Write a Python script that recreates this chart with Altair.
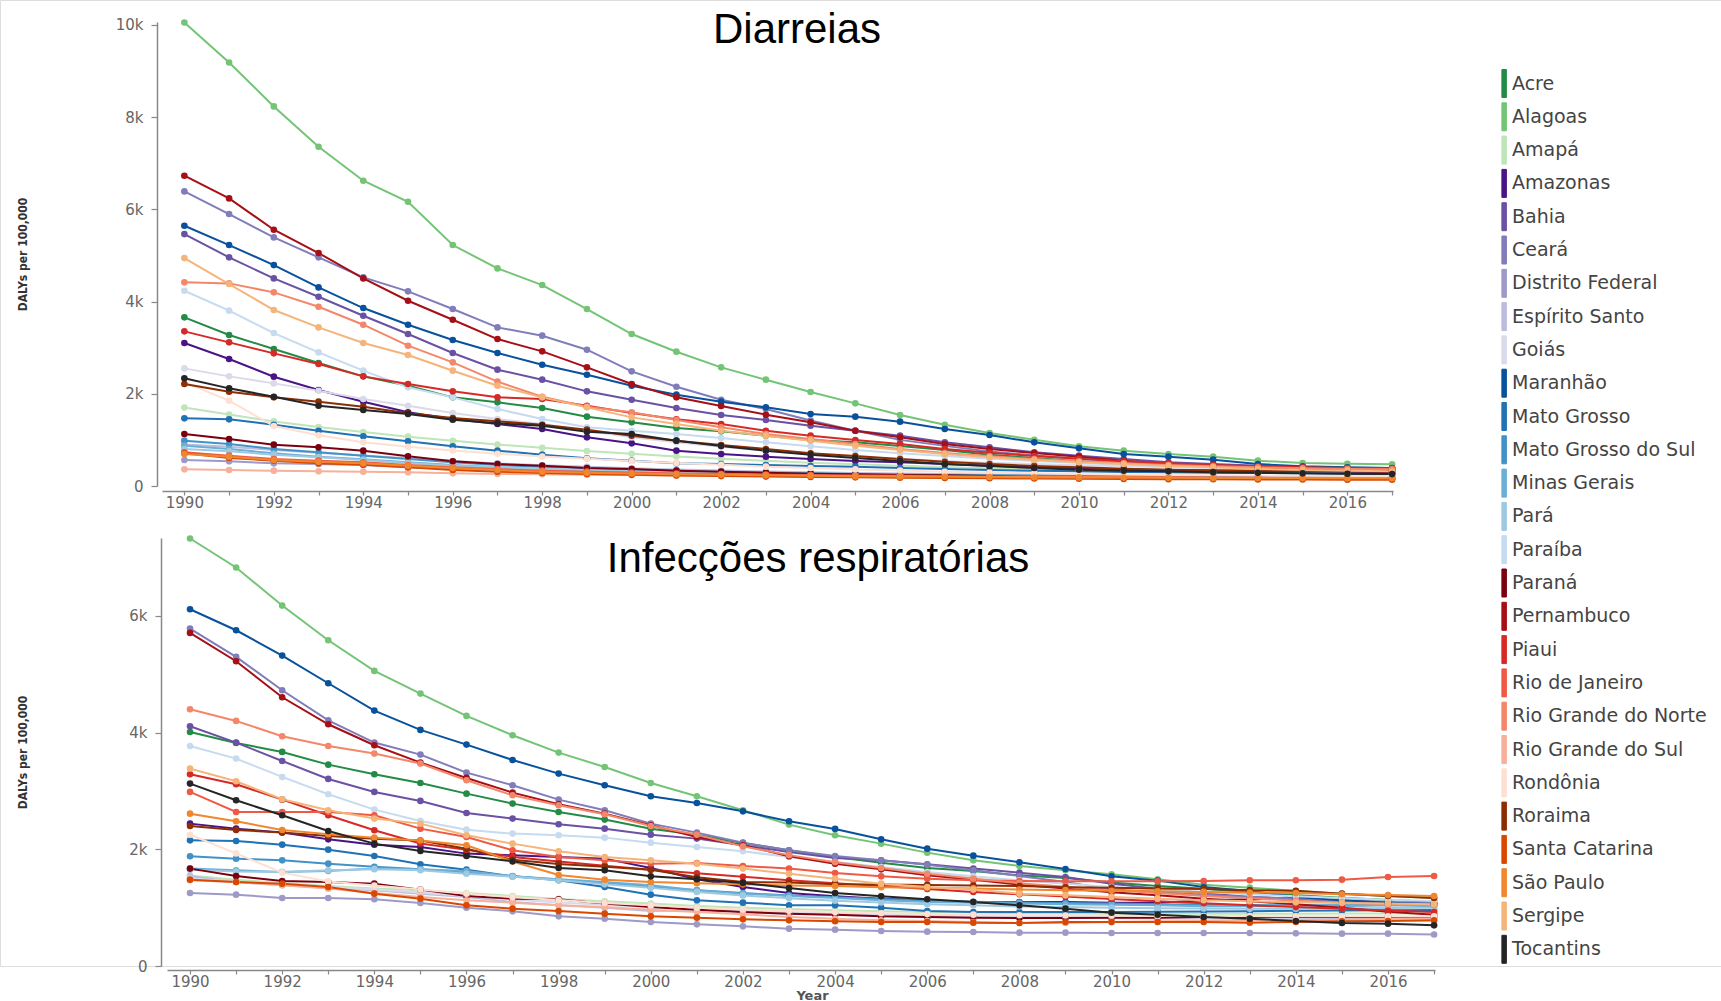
import altair as alt
import pandas as pd

YEARS = list(range(1990, 2018))

STATES = ["Acre", "Alagoas", "Amapá", "Amazonas", "Bahia", "Ceará", "Distrito Federal",
          "Espírito Santo", "Goiás", "Maranhão", "Mato Grosso", "Mato Grosso do Sul",
          "Minas Gerais", "Pará", "Paraíba", "Paraná", "Pernambuco", "Piaui",
          "Rio de Janeiro", "Rio Grande do Norte", "Rio Grande do Sul", "Rondônia",
          "Roraima", "Santa Catarina", "São Paulo", "Sergipe", "Tocantins"]

COLORS = ["#238b45", "#74c476", "#bfe5b9", "#4a1486", "#6a51a3", "#807dba", "#9e9ac8",
          "#bcbddc", "#dadaeb", "#08519c", "#2171b5", "#4292c6", "#6baed6", "#9ecae1",
          "#c6dbef", "#7a0010", "#a50f15", "#d52a26", "#ef5a44", "#f4876a", "#f7b09a",
          "#fde0d2", "#8c2d04", "#d94801", "#f0862e", "#f5b47a", "#252525"]

# ---- Diarreias (DALYs per 100,000), 1990..2017 ----
D_ACRE = [3656, 3273, 2970, 2666, 2377, 2175, 1922, 1814, 1691, 1503, 1380, 1257, 1185, 1091, 997, 947, 867, 780, 679, 607, 535, 491, 455, 419, 390, 368, 354, 340]
D_ALAGOAS = [10050, 9183, 8230, 7355, 6619, 6163, 5224, 4718, 4357, 3837, 3295, 2912, 2572, 2305, 2038, 1792, 1539, 1329, 1149, 1004, 860, 766, 694, 636, 549, 499, 480, 470]
D_AMAPA = [1700, 1550, 1400, 1280, 1170, 1070, 980, 900, 830, 760, 700, 640, 590, 545, 505, 470, 440, 410, 385, 362, 342, 325, 310, 297, 286, 277, 270, 265]
D_AMAZONAS = [3100, 2753, 2370, 2081, 1828, 1597, 1452, 1344, 1236, 1055, 925, 766, 694, 636, 585, 542, 513, 477, 441, 405, 383, 361, 347, 332, 325, 318, 311, 303]
D_BAHIA = [5462, 4957, 4501, 4104, 3692, 3295, 2883, 2522, 2305, 2052, 1871, 1691, 1539, 1431, 1308, 1199, 1091, 947, 838, 730, 658, 585, 513, 477, 441, 405, 383, 368]
D_CEARA = [6387, 5896, 5390, 4957, 4523, 4220, 3837, 3439, 3259, 2955, 2486, 2153, 1871, 1669, 1420, 1200, 1000, 870, 750, 660, 590, 525, 475, 435, 405, 385, 372, 365]
D_DF = [564, 535, 491, 477, 455, 405, 368, 332, 311, 289, 272, 258, 246, 236, 227, 219, 212, 206, 200, 195, 190, 186, 182, 179, 176, 174, 172, 170]
D_ES = [900, 850, 780, 720, 660, 600, 540, 490, 450, 415, 385, 358, 335, 315, 298, 283, 270, 258, 248, 239, 231, 224, 218, 213, 209, 205, 202, 200]
D_GOIAS = [2550, 2377, 2225, 2066, 1886, 1741, 1582, 1452, 1344, 1199, 1055, 947, 853, 766, 694, 636, 585, 542, 506, 477, 448, 426, 405, 390, 376, 368, 361, 354]
D_MARANHAO = [5643, 5224, 4790, 4306, 3858, 3497, 3165, 2883, 2630, 2413, 2175, 1980, 1828, 1705, 1561, 1503, 1395, 1236, 1105, 947, 816, 694, 636, 571, 477, 426, 405, 390]
D_MT = [1467, 1445, 1329, 1199, 1077, 968, 860, 766, 679, 600, 549, 491, 477, 455, 434, 419, 390, 368, 347, 332, 318, 303, 296, 289, 282, 275, 267, 260]
D_MS = [983, 910, 802, 730, 658, 585, 513, 455, 419, 383, 354, 330, 310, 290, 275, 262, 250, 240, 232, 225, 218, 212, 207, 202, 198, 195, 192, 190]
D_MG = [874, 802, 708, 636, 578, 513, 455, 405, 368, 332, 311, 290, 272, 256, 242, 230, 220, 211, 203, 196, 190, 185, 180, 176, 172, 169, 166, 163]
D_PARA = [802, 751, 679, 621, 564, 499, 441, 405, 368, 347, 320, 298, 280, 264, 250, 238, 228, 219, 211, 204, 198, 193, 188, 184, 180, 177, 174, 172]
D_PARAIBA = [4234, 3801, 3316, 2897, 2500, 2139, 1922, 1669, 1452, 1272, 1199, 1127, 1040, 947, 860, 780, 708, 650, 592, 542, 499, 462, 434, 412, 390, 376, 368, 361]
D_PARANA = [1127, 1019, 896, 838, 766, 643, 535, 477, 441, 390, 368, 332, 311, 289, 267, 253, 238, 231, 217, 202, 202, 195, 188, 181, 181, 173, 173, 166]
D_PERNAMBUCO = [6727, 6236, 5556, 5051, 4501, 4017, 3605, 3186, 2919, 2572, 2211, 1922, 1734, 1546, 1380, 1199, 1055, 910, 802, 715, 636, 549, 477, 441, 405, 368, 354, 347]
D_PIAUI = [3353, 3114, 2876, 2645, 2377, 2211, 2052, 1922, 1886, 1741, 1582, 1445, 1344, 1199, 1091, 997, 910, 802, 723, 650, 592, 535, 491, 455, 426, 405, 390, 383]
D_RJ = [730, 658, 585, 549, 513, 455, 405, 368, 332, 311, 290, 272, 258, 246, 236, 228, 220, 213, 207, 202, 198, 194, 190, 187, 184, 182, 180, 178]
D_RN = [4415, 4393, 4198, 3887, 3497, 3042, 2681, 2262, 1936, 1720, 1597, 1431, 1272, 1127, 1019, 910, 802, 715, 643, 585, 535, 491, 455, 426, 405, 383, 368, 361]
D_RS = [361, 347, 332, 318, 311, 296, 275, 260, 253, 246, 238, 230, 223, 216, 210, 204, 199, 194, 190, 186, 183, 180, 177, 175, 173, 171, 169, 168]
D_RONDONIA = [2250, 1850, 1300, 1100, 950, 850, 770, 700, 640, 590, 540, 500, 460, 420, 390, 360, 335, 310, 290, 275, 260, 250, 240, 232, 225, 220, 215, 212]
D_RORAIMA = [2211, 2045, 1922, 1828, 1720, 1575, 1474, 1402, 1329, 1221, 1091, 983, 889, 802, 708, 650, 585, 527, 477, 434, 405, 376, 354, 340, 332, 325, 318, 311]
D_SC = [708, 607, 549, 491, 462, 405, 347, 311, 282, 260, 242, 228, 215, 204, 195, 187, 180, 173, 167, 162, 157, 153, 149, 146, 143, 140, 138, 136]
D_SP = [694, 636, 564, 527, 491, 441, 390, 347, 311, 289, 270, 255, 242, 231, 222, 214, 207, 200, 195, 190, 186, 182, 179, 176, 174, 172, 170, 168]
D_SERGIPE = [4942, 4379, 3815, 3439, 3100, 2840, 2500, 2175, 1922, 1705, 1488, 1344, 1199, 1091, 983, 874, 780, 694, 621, 564, 513, 477, 434, 405, 368, 347, 332, 318]
D_TOCANTINS = [2334, 2117, 1936, 1741, 1647, 1561, 1438, 1358, 1308, 1178, 1127, 983, 867, 766, 679, 607, 542, 477, 434, 390, 354, 332, 318, 300, 285, 275, 265, 258]

# ---- Infecções respiratórias (DALYs per 100,000), 1990..2017 ----
R_ACRE = [4011, 3823, 3669, 3451, 3286, 3137, 2954, 2783, 2640, 2509, 2354, 2251, 2109, 1983, 1869, 1771, 1680, 1629, 1554, 1509, 1429, 1371, 1326, 1269, 1211, 1170, 1130, 1100]
R_ALAGOAS = [7326, 6829, 6177, 5583, 5057, 4669, 4286, 3954, 3657, 3411, 3137, 2909, 2669, 2423, 2240, 2097, 1943, 1811, 1714, 1640, 1571, 1486, 1394, 1343, 1286, 1240, 1200, 1166]
R_AMAPA = [1550, 1480, 1420, 1370, 1330, 1300, 1250, 1200, 1150, 1110, 1070, 1030, 1000, 975, 955, 940, 925, 915, 905, 900, 895, 895, 895, 895, 895, 898, 900, 900]
R_AMAZONAS = [2440, 2354, 2286, 2171, 2080, 2040, 1926, 1897, 1869, 1840, 1680, 1486, 1354, 1251, 1194, 1154, 1126, 1097, 1097, 1097, 1086, 1086, 1126, 1143, 1166, 1109, 1086, 1057]
R_BAHIA = [4109, 3829, 3514, 3206, 2983, 2829, 2623, 2526, 2429, 2354, 2251, 2183, 2069, 1954, 1851, 1811, 1743, 1669, 1600, 1526, 1411, 1326, 1251, 1183, 1154, 1109, 1080, 1057]
R_CEARA = [5783, 5297, 4726, 4211, 3829, 3623, 3314, 3097, 2851, 2669, 2440, 2286, 2114, 1983, 1886, 1811, 1737, 1640, 1543, 1440, 1309, 1269, 1223, 1183, 1154, 1126, 1097, 1080]
R_DF = [1251, 1223, 1166, 1166, 1143, 1080, 1000, 937, 851, 811, 754, 714, 680, 640, 623, 600, 589, 583, 571, 571, 566, 566, 566, 566, 560, 554, 554, 540]
R_ES = [1537, 1440, 1383, 1337, 1297, 1240, 1183, 1097, 1040, 1000, 943, 954, 926, 897, 880, 857, 840, 840, 840, 838, 835, 832, 830, 828, 826, 824, 822, 821]
R_GOIAS = [1500, 1450, 1400, 1360, 1310, 1260, 1200, 1140, 1090, 1050, 1010, 975, 945, 920, 900, 880, 865, 850, 840, 830, 820, 810, 800, 795, 790, 785, 778, 770]
R_MARANHAO = [6114, 5754, 5320, 4846, 4377, 4046, 3794, 3531, 3297, 3097, 2909, 2794, 2651, 2480, 2349, 2171, 2011, 1891, 1777, 1663, 1537, 1463, 1354, 1286, 1183, 1126, 1086, 1057]
R_MT = [2154, 2143, 2080, 1994, 1886, 1743, 1651, 1537, 1469, 1354, 1223, 1126, 1086, 1040, 1040, 1000, 943, 926, 926, 926, 926, 930, 935, 940, 945, 950, 955, 960]
R_MS = [1880, 1840, 1811, 1754, 1700, 1660, 1600, 1540, 1480, 1420, 1360, 1300, 1250, 1210, 1180, 1150, 1120, 1100, 1090, 1080, 1070, 1060, 1050, 1045, 1040, 1040, 1045, 1050]
R_MG = [1669, 1640, 1611, 1629, 1669, 1657, 1629, 1537, 1486, 1440, 1383, 1297, 1240, 1200, 1166, 1126, 1097, 1086, 1069, 1057, 1051, 1040, 1023, 1023, 1040, 1023, 1040, 1023]
R_PARA = [1650, 1620, 1610, 1640, 1660, 1640, 1580, 1530, 1470, 1400, 1340, 1270, 1210, 1160, 1120, 1090, 1060, 1040, 1020, 1010, 1000, 990, 985, 980, 980, 985, 995, 1000]
R_PARAIBA = [3771, 3554, 3240, 2943, 2680, 2486, 2337, 2269, 2240, 2200, 2114, 2040, 1966, 1869, 1783, 1697, 1611, 1537, 1469, 1411, 1354, 1309, 1269, 1229, 1194, 1166, 1137, 1114]
R_PARANA = [1669, 1543, 1457, 1440, 1411, 1309, 1200, 1154, 1143, 1069, 1011, 966, 926, 897, 880, 851, 840, 829, 823, 823, 829, 829, 840, 840, 840, 840, 840, 840]
R_PERNAMBUCO = [5709, 5223, 4606, 4143, 3783, 3486, 3223, 2971, 2771, 2611, 2411, 2211, 2069, 1880, 1754, 1657, 1554, 1480, 1394, 1326, 1263, 1211, 1154, 1109, 1057, 1000, 930, 880]
R_PIAUI = [3286, 3114, 2851, 2583, 2326, 2100, 1990, 1870, 1790, 1720, 1650, 1590, 1530, 1470, 1420, 1370, 1320, 1270, 1230, 1190, 1150, 1110, 1075, 1040, 1010, 980, 950, 925]
R_RJ = [2983, 2640, 2640, 2640, 2583, 2354, 2211, 1983, 1869, 1811, 1754, 1766, 1714, 1669, 1594, 1537, 1497, 1469, 1457, 1451, 1451, 1451, 1457, 1469, 1469, 1480, 1526, 1543]
R_RN = [4400, 4200, 3937, 3771, 3640, 3469, 3183, 2926, 2754, 2600, 2400, 2250, 2050, 1900, 1780, 1680, 1580, 1500, 1420, 1360, 1300, 1250, 1200, 1160, 1120, 1090, 1060, 1040]
R_RS = [1469, 1440, 1383, 1326, 1251, 1183, 1126, 1086, 1040, 1011, 966, 926, 886, 840, 811, 783, 771, 754, 737, 737, 754, 766, 771, 783, 783, 794, 811, 811]
R_RONDONIA = [2250, 1930, 1600, 1450, 1380, 1310, 1240, 1180, 1130, 1080, 1040, 1000, 970, 945, 925, 905, 890, 880, 870, 865, 860, 858, 856, 855, 853, 852, 851, 850]
R_RORAIMA = [2400, 2330, 2290, 2230, 2180, 2150, 2010, 1820, 1750, 1700, 1650, 1520, 1440, 1430, 1400, 1395, 1390, 1380, 1370, 1350, 1340, 1330, 1320, 1300, 1290, 1240, 1200, 1166]
R_SC = [1480, 1440, 1411, 1354, 1240, 1154, 1040, 983, 943, 897, 851, 829, 800, 783, 766, 754, 754, 743, 737, 754, 754, 754, 754, 743, 754, 766, 771, 783]
R_SP = [2611, 2480, 2330, 2260, 2200, 2150, 2070, 1790, 1560, 1480, 1440, 1420, 1400, 1380, 1370, 1350, 1340, 1330, 1310, 1300, 1290, 1280, 1270, 1260, 1250, 1230, 1215, 1200]
R_SERGIPE = [3383, 3166, 2857, 2669, 2526, 2440, 2240, 2097, 1966, 1869, 1811, 1754, 1669, 1583, 1497, 1411, 1354, 1309, 1240, 1211, 1183, 1154, 1126, 1109, 1091, 1080, 1069, 1057]
R_TOCANTINS = [3126, 2840, 2583, 2314, 2097, 1971, 1886, 1794, 1680, 1640, 1537, 1486, 1423, 1337, 1251, 1194, 1143, 1097, 1040, 983, 914, 880, 840, 811, 771, 737, 726, 697]

DIAR = [D_ACRE, D_ALAGOAS, D_AMAPA, D_AMAZONAS, D_BAHIA, D_CEARA, D_DF, D_ES, D_GOIAS,
        D_MARANHAO, D_MT, D_MS, D_MG, D_PARA, D_PARAIBA, D_PARANA, D_PERNAMBUCO, D_PIAUI,
        D_RJ, D_RN, D_RS, D_RONDONIA, D_RORAIMA, D_SC, D_SP, D_SERGIPE, D_TOCANTINS]
RESP = [R_ACRE, R_ALAGOAS, R_AMAPA, R_AMAZONAS, R_BAHIA, R_CEARA, R_DF, R_ES, R_GOIAS,
        R_MARANHAO, R_MT, R_MS, R_MG, R_PARA, R_PARAIBA, R_PARANA, R_PERNAMBUCO, R_PIAUI,
        R_RJ, R_RN, R_RS, R_RONDONIA, R_RORAIMA, R_SC, R_SP, R_SERGIPE, R_TOCANTINS]


def frame(series):
    rows = []
    for s, vals in zip(STATES, series):
        for y, v in zip(YEARS, vals):
            rows.append({"state": s, "year": y, "v": v})
    return pd.DataFrame(rows)


df_d = frame(DIAR)
df_r = frame(RESP)

LABEL_FONT = "DejaVu Sans"
COND_FONT = "'DejaVu Sans Condensed', 'Liberation Sans Narrow', 'Roboto Condensed', 'Open Sans', sans-serif"
BAR_PATH = "M0.6,-1L0.92,-1L0.92,1L0.6,1Z"

color = alt.Color(
    "state:N",
    scale=alt.Scale(domain=STATES, range=COLORS),
    legend=alt.Legend(
        title=None, orient="none", legendX=1479, legendY=69,
        symbolType=BAR_PATH, symbolSize=784, symbolStrokeWidth=1,
        symbolOpacity=1, rowPadding=0.3, labelOffset=4,
        labelFont=LABEL_FONT, labelFontSize=19, labelColor="#444",
        labelLimit=400,
    ),
)

Y_LABELS = "datum.value == 0 ? '0' : format(datum.value / 1000, 'd') + 'k'"


def yaxis(values, off, title_y):
    return alt.Axis(
        orient="left", offset=off, values=values, labelExpr=Y_LABELS, grid=False,
        domainColor="#888", tickColor="#888", domainWidth=1.5, tickWidth=1.2,
        tickSize=6, labelPadding=8, labelFont=LABEL_FONT, labelFontSize=15,
        labelColor="#666", title="DALYs per 100,000",
        titleFont=COND_FONT, titleFontSize=12, titleFontWeight="bold",
        titleColor="#333", titleAngle=270, titleX=22 + off, titleY=title_y,
        titleBaseline="middle", titleAlign="center",
    )


def xaxis(off, title=None):
    if title:
        kw = dict(title=title, titleFont=LABEL_FONT, titleFontSize=13,
                  titleFontWeight="bold", titleColor="#555", titleX=812,
                  titleY=25, titleBaseline="middle", titleAlign="center")
    else:
        kw = dict(title=None)
    return alt.Axis(
        orient="bottom", offset=off, values=YEARS, format="d",
        labelExpr="datum.value % 2 == 0 ? datum.label : ''",
        grid=False, domainColor="#888", tickColor="#888", domainWidth=1.5,
        tickWidth=1.2, tickSize=4, labelPadding=0, labelFont=LABEL_FONT,
        labelFontSize=15, labelColor="#666", labelOverlap=False, labelFlush=False,
        **kw,
    )


point = alt.OverlayMarkDef(filled=True, size=44, opacity=1)

top = alt.Chart(df_d).mark_line(strokeWidth=2, point=point).encode(
    x=alt.X("year:Q", scale=alt.Scale(domain=[1989.5, 2017.02], range=[162, 1393], nice=False, zero=False),
            axis=xaxis(491 - 966)),
    y=alt.Y("v:Q", scale=alt.Scale(domain=[0, 10060], range=[486, 22], nice=False, zero=True),
            axis=yaxis([0, 2000, 4000, 6000, 8000, 10000], -157, 254)),
    color=color,
)

bottom = alt.Chart(df_r).mark_line(strokeWidth=2, point=point).encode(
    x=alt.X("year:Q", scale=alt.Scale(domain=[1989.5, 2017.02], range=[167, 1435], nice=False, zero=False),
            axis=xaxis(4, "Year")),
    y=alt.Y("v:Q", scale=alt.Scale(domain=[0, 7335], range=[966, 538], nice=False, zero=True),
            axis=yaxis([0, 2000, 4000, 6000], -161, 752)),
    color=color,
)

t1 = alt.Chart(pd.DataFrame({"t": ["Diarreias"]})).mark_text(
    font="Liberation Sans", fontSize=42, align="center", baseline="alphabetic", color="#000"
).encode(x=alt.value(797), y=alt.value(43), text="t:N")

t2 = alt.Chart(pd.DataFrame({"t": ["Infecções respiratórias"]})).mark_text(
    font="Liberation Sans", fontSize=42, align="center", baseline="alphabetic", color="#000"
).encode(x=alt.value(818), y=alt.value(572), text="t:N")

chart = alt.layer(top, bottom, t1, t2).resolve_scale(
    x="independent", y="independent"
).properties(
    width=1721, height=966,
    autosize=alt.AutoSizeParams(type="none"),
    padding={"left": 0, "top": 0, "right": 0, "bottom": 35},
).configure_view(stroke="transparent", strokeWidth=0).configure(background="white")

chart.save("out.html", embed_options={"renderer": "svg", "actions": False})
